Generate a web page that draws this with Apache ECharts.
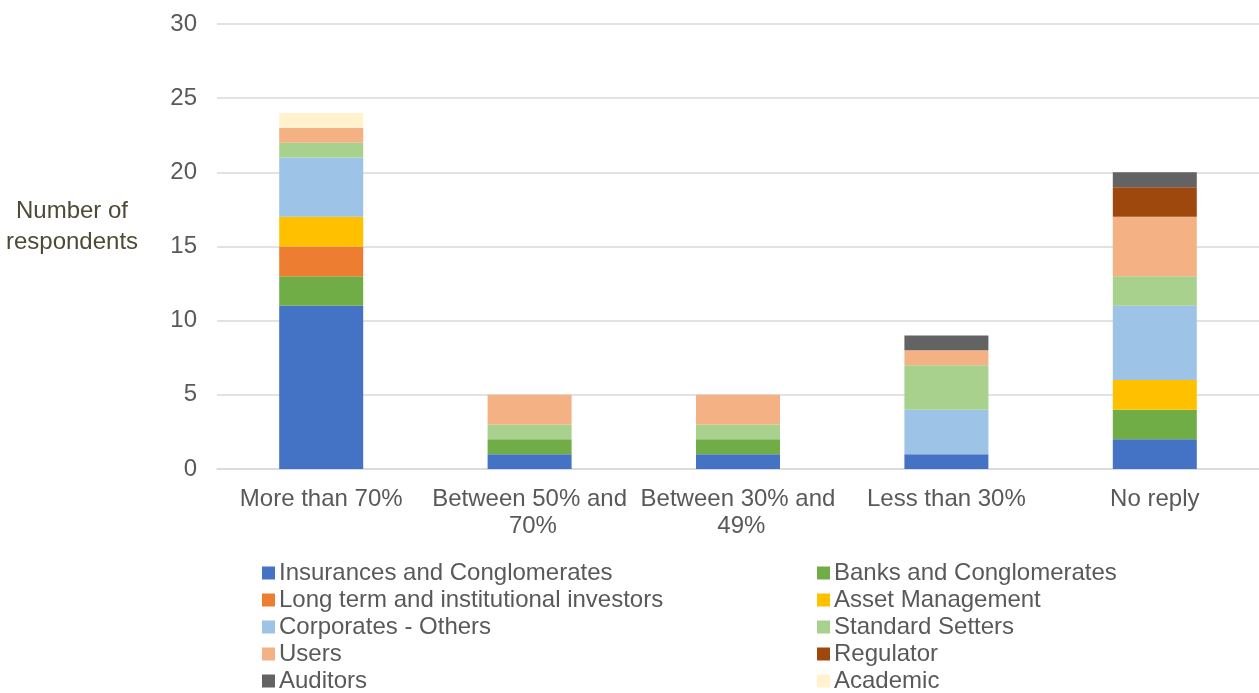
<!DOCTYPE html>
<html>
<head>
<meta charset="utf-8">
<script src="https://cdn.jsdelivr.net/npm/echarts@6/dist/echarts.min.js"></script>
<style>html,body{margin:0;padding:0;background:#fff;}#c{width:1259px;height:693px;}</style>
</head>
<body>
<div id="c"></div>
<script>
const categories = ["More than 70%", "Between 50% and 70%", "Between 30% and 49%", "Less than 30%", "No reply"];
const seriesNames = ["Insurances and Conglomerates", "Banks and Conglomerates", "Long term and institutional investors", "Asset Management", "Corporates - Others", "Standard Setters", "Users", "Regulator", "Auditors", "Academic"];
const insurances = [11, 1, 1, 1, 2];
const banks = [2, 1, 1, 0, 2];
const longTerm = [2, 0, 0, 0, 0];
const assetMgmt = [2, 0, 0, 0, 2];
const corporates = [4, 0, 0, 3, 5];
const standardSetters = [1, 1, 1, 3, 2];
const users = [1, 2, 2, 1, 4];
const regulator = [0, 0, 0, 0, 2];
const auditors = [0, 0, 0, 1, 1];
const academic = [1, 0, 0, 0, 0];
const yTicks = [0, 5, 10, 15, 20, 25, 30];

const seriesData = [insurances, banks, longTerm, assetMgmt, corporates, standardSetters, users, regulator, auditors, academic];
const colors = ["#4472C4", "#70AD47", "#ED7D31", "#FFC000", "#9DC3E6", "#A9D18E", "#F4B183", "#9E480E", "#636363", "#FFF2CC"];
const font = "'Liberation Sans', Arial, sans-serif";

const chart = echarts.init(document.getElementById('c'), null, {renderer: 'canvas'});
const legendBase = {
  orient: 'vertical', top: 561, height: 140, padding: 0, itemWidth: 13, itemHeight: 13, itemGap: 3, icon: 'rect',
  textStyle: {fontFamily: font, fontSize: 24, color: '#595959', lineHeight: 24, padding: [0,0,0,-1]},
  selectedMode: false
};
chart.setOption({
  animation: false,
  color: colors,
  grid: {left: 217, right: 0, top: 24, bottom: 224, containLabel: false},
  legend: [
    Object.assign({}, legendBase, {left: 262, data: [seriesNames[0], seriesNames[2], seriesNames[4], seriesNames[6], seriesNames[8]]}),
    Object.assign({}, legendBase, {left: 817, data: [seriesNames[1], seriesNames[3], seriesNames[5], seriesNames[7], seriesNames[9]]})
  ],
  graphic: [{
    type: 'text',
    style: {text: 'Number of\nrespondents', x: 72, y: 227, align: 'center', verticalAlign: 'middle',
      font: "24px 'Liberation Sans', Arial, sans-serif", fill: '#4D4A36', lineHeight: 31}
  }],
  xAxis: {
    type: 'category', data: categories,
    axisLine: {lineStyle: {color: '#D9D9D9', width: 1.5}},
    axisTick: {show: false},
    axisLabel: {fontFamily: font, fontSize: 24, color: '#595959', margin: 17, lineHeight: 27,
      width: 200, overflow: 'break', interval: 0}
  },
  yAxis: {
    type: 'value', min: 0, max: 30, interval: 5,
    axisLine: {show: false}, axisTick: {show: false},
    splitLine: {lineStyle: {color: '#D9D9D9', width: 1.5}},
    axisLabel: {fontFamily: font, fontSize: 24, color: '#595959', margin: 20,
      formatter: v => yTicks.includes(v) ? String(v) : ''}
  },
  series: seriesNames.map((n, i) => ({
    name: n, type: 'bar', stack: 'total', barWidth: 84,
    data: seriesData[i],
    itemStyle: {color: colors[i]}
  }))
});
</script>
</body>
</html>
